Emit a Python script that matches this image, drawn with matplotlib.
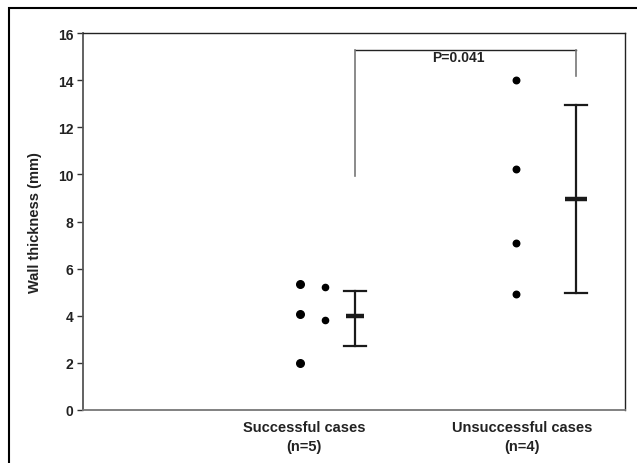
import matplotlib
matplotlib.use('Agg')
import matplotlib.pyplot as plt
import matplotlib.patches as patches

plt.rcParams['font.family'] = ['Liberation Sans', 'DejaVu Sans']

# group labels and positions
group_labels = ['Successful cases\n(n=5)', 'Unsuccessful cases\n(n=4)']
group_x = [2.04, 4.05]

# individual points (x, wall thickness)
succ_x = [2.0, 2.0, 2.0, 2.23, 2.23]
succ_y = [5.36, 4.07, 1.99, 5.21, 3.83]
unsucc_x = [3.99, 3.99, 3.99, 3.99]
unsucc_y = [14.0, 10.23, 7.07, 4.92]

# mean +/- error
bar_x = [2.51, 4.55]
bar_mean = [4.0, 8.95]
bar_lo = [2.73, 4.95]
bar_hi = [5.05, 12.96]

# significance bracket
brk_x = [2.51, 4.55]
brk_top = 15.29
brk_left_bottom = 9.95
brk_right_bottom = 14.18
p_text = 'P=0.041'

fig = plt.figure(figsize=(6.37, 4.64), dpi=100)
ax = fig.add_axes([83/637, 53/464, 542/637, 377/464])

ax.scatter(succ_x[:3], succ_y[:3], s=30, color='k', zorder=3)
ax.scatter(succ_x[3:], succ_y[3:], s=20, color='k', zorder=3)
ax.scatter(unsucc_x, unsucc_y, s=22, color='k', zorder=3)

for i in range(len(bar_x)):
    x = bar_x[i]
    ax.plot([x, x], [bar_lo[i], bar_hi[i]], color='#1a1a1a', lw=1.6)
    w = 0.1
    ax.plot([x - w, x + w], [bar_lo[i], bar_lo[i]], color='#1a1a1a', lw=1.6)
    ax.plot([x - w, x + w], [bar_hi[i], bar_hi[i]], color='#1a1a1a', lw=1.6)
    ax.plot([x - 0.08 - (0.02 if i else 0), x + 0.08 + (0.02 if i else 0)],
            [bar_mean[i], bar_mean[i]], color='#1a1a1a', lw=3.2, solid_capstyle='butt')

# bracket
ax.plot([brk_x[0], brk_x[1]], [brk_top, brk_top], color='#222222', lw=1.0)
ax.plot([brk_x[0], brk_x[0]], [brk_top, brk_left_bottom], color='#777777', lw=1.2)
ax.plot([brk_x[1], brk_x[1]], [brk_top, brk_right_bottom], color='#777777', lw=1.2)
ax.text(3.46, 15.0, p_text, ha='center', va='center', fontsize=10, fontweight='bold', color='#222222')

ax.set_xlim(0, 5)
ax.set_ylim(0, 16)
ax.set_yticks(range(0, 17, 2))
ax.set_xticks(group_x)
ax.set_xticklabels(group_labels, fontsize=10.5, fontweight='bold', color='#222222', linespacing=1.45)
ax.tick_params(axis='x', length=0, pad=7)
ax.tick_params(axis='y', length=4, width=1, direction='out', pad=3, labelsize=10, color='#333333')
for lab in ax.get_yticklabels():
    lab.set_fontweight('bold')
    lab.set_color('#222222')

ax.set_ylabel('Wall thickness (mm)', fontsize=10.5, fontweight='bold', color='#222222', labelpad=11)

ax.spines['left'].set_color('#555555')
ax.spines['bottom'].set_color('#777777')
ax.spines['left'].set_linewidth(1.3)
ax.spines['bottom'].set_linewidth(1.3)
ax.spines['top'].set_color('#222222')
ax.spines['right'].set_color('#222222')
ax.spines['top'].set_linewidth(1.0)
ax.spines['right'].set_linewidth(1.0)

# outer frame (cropped at right and bottom)
frame = patches.Rectangle((9/637, -0.1), 1.2, (464 - 9)/464 + 0.1,
                          transform=fig.transFigure, fill=False, edgecolor='k', lw=1.5)
fig.patches.append(frame)

fig.savefig('out.png', dpi=100)
